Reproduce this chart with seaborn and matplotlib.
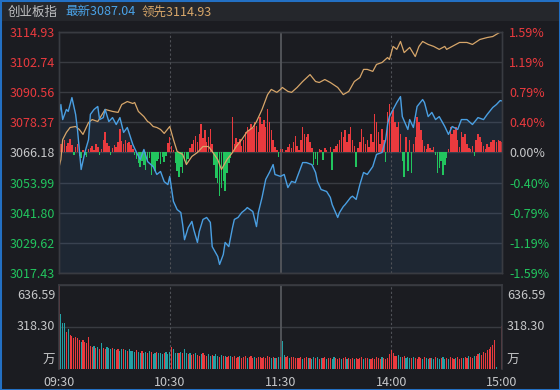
import numpy as np
import pandas as pd
import seaborn as sns
import matplotlib.pyplot as plt
from matplotlib.patches import Rectangle

# ---- data (minute index 0 = 09:30, 240 = 15:00) ----
pre_close = 3066.18
price_ticks = [3114.93, 3102.74, 3090.56, 3078.37, 3066.18, 3053.99, 3041.80, 3029.62, 3017.43]
pct_ticks = ['1.59%', '1.19%', '0.79%', '0.40%', '0.00%', '-0.40%', '-0.79%', '-1.19%', '-1.59%']
time_ticks = [0, 60, 120, 180, 240]
time_labels = ['09:30', '10:30', '11:30', '14:00', '15:00']

index_min = [0, 1, 2, 4, 5, 7, 9, 10, 12, 14, 16, 17, 19, 21, 22, 24, 25, 27, 29, 31,
             33, 35, 37, 40, 42, 44, 46, 48, 51, 53, 55, 57, 59, 60, 62, 64, 66, 67, 68, 70,
             72, 73, 75, 76, 78, 80, 82, 83, 86, 87, 89, 90, 92, 94, 95, 97, 99, 101, 102, 105,
             107, 108, 110, 112, 114, 116, 117, 120, 122, 124, 126, 128, 129, 132, 134, 137, 139, 140, 142, 145,
             147, 148, 151, 152, 154, 155, 158, 159, 161, 163, 165, 167, 170, 172, 175, 177, 178, 179, 181, 183,
             185, 186, 189, 190, 192, 194, 197, 198, 200, 202, 204, 206, 209, 211, 213, 216, 218, 221, 224, 227,
             230, 232, 235, 237, 239, 240]
index_price = [3081.55, 3085.6, 3079.5, 3083.6, 3082.8, 3088.4, 3081.6, 3075.5, 3059.3, 3066.2,
               3071.4, 3081.6, 3083.6, 3084.8, 3079.5, 3080.3, 3083.6, 3078.7, 3080.3, 3077.5,
               3080.3, 3074.3, 3076.3, 3069.4, 3066.2, 3063.3, 3067.4, 3062.5, 3060.5, 3057.3,
               3058.5, 3054.4, 3053.2, 3056.5, 3046.4, 3043.1, 3041.9, 3037.0, 3030.9, 3035.8,
               3038.3, 3035.0, 3029.8, 3034.2, 3039.1, 3039.9, 3037.9, 3028.1, 3024.1, 3020.9,
               3024.9, 3029.8, 3028.1, 3035.8, 3039.1, 3039.9, 3041.9, 3043.1, 3043.9, 3042.3,
               3036.2, 3041.9, 3048.0, 3055.3, 3058.1, 3061.3, 3057.3, 3056.5, 3057.3, 3052.0,
               3054.5, 3054.0, 3056.1, 3062.1, 3062.1, 3061.3, 3058.1, 3054.5, 3051.2, 3050.4,
               3048.0, 3045.1, 3039.9, 3041.9, 3044.3, 3045.1, 3048.0, 3048.5, 3047.2, 3053.2,
               3058.1, 3057.3, 3060.5, 3065.4, 3066.2, 3071.4, 3077.5, 3080.7, 3083.6, 3086.4,
               3088.8, 3080.7, 3075.5, 3079.5, 3076.3, 3084.8, 3087.6, 3086.4, 3080.7, 3082.4,
               3079.5, 3080.7, 3076.7, 3073.5, 3076.7, 3075.5, 3079.5, 3079.5, 3077.5, 3080.3,
               3079.5, 3081.6, 3084.4, 3085.6, 3087.2, 3087.04]

lead_min = [0, 1, 2, 4, 6, 9, 11, 13, 16, 18, 21, 25, 29, 32, 34, 37, 40, 41, 43, 46,
            48, 49, 51, 53, 55, 57, 60, 62, 64, 67, 69, 72, 75, 78, 81, 83, 86, 88, 91, 94,
            96, 99, 102, 105, 107, 110, 113, 115, 118, 120, 121, 124, 126, 129, 132, 136, 139, 141, 144, 147,
            151, 154, 157, 160, 163, 165, 167, 170, 172, 175, 178, 179, 181, 183, 185, 187, 190, 193, 195, 197,
            200, 203, 206, 209, 210, 213, 217, 221, 224, 228, 232, 235, 239, 240]
lead_price = [3060.1, 3063.3, 3071.4, 3074.3, 3076.3, 3076.7, 3075.5, 3073.5, 3078.3, 3079.5,
              3078.7, 3083.6, 3082.8, 3082.4, 3085.6, 3086.8, 3086.0, 3086.4, 3082.8, 3080.7,
              3078.7, 3078.3, 3076.7, 3076.3, 3075.5, 3073.9, 3076.7, 3071.4, 3066.6, 3065.4,
              3061.3, 3064.6, 3066.2, 3068.6, 3068.6, 3066.6, 3063.3, 3059.3, 3063.3, 3066.2,
              3068.6, 3071.4, 3074.7, 3076.3, 3078.7, 3083.6, 3089.6, 3091.7, 3090.5, 3091.7,
              3092.5, 3090.9, 3090.5, 3092.5, 3094.9, 3097.7, 3094.9, 3094.5, 3095.7, 3094.5,
              3092.5, 3089.6, 3090.9, 3094.9, 3096.5, 3099.8, 3099.8, 3099.0, 3101.8, 3102.6,
              3104.6, 3103.8, 3109.1, 3107.9, 3111.1, 3106.6, 3108.7, 3105.0, 3109.1, 3111.1,
              3109.9, 3109.1, 3107.9, 3109.1, 3107.9, 3109.1, 3110.7, 3110.7, 3109.9, 3111.9,
              3112.7, 3113.1, 3114.9, 3114.93]

# buy/sell strength bars (one per minute), + red / - green
strength = [3, 8, 10, 12, 6, 9, 13, 7, -2, 5, 8,
            -3, -5, 2, -2, -4, 3,
            4, 6, 2, 8, 5, -2,
            3, 12, 20, 9, 6, -2, 4, 7,
            5, 10, 23, 11, 8, 12, 9, 10, 7, 3,
            -2, -6, -10, -14, -8, -12, -17,
            -9, -5, -22, -14, -18, -8, -6, -11, -4, -9, -3,
            9, 15, 6, 2,
            -10, -18, -24, -14, -20, -8, -12, -6,
            4, 8, 12, 16, 10, 18, 28, 14, 22, 10, 15, 23, 8,
            -12, -25, -30, -43, -35, -28, -38, -20, -10, -5,
            35, 8, 14, 10, 13, 6, 12, 20, 25, 22, 28, 24, 30, 26, 20, 35, 28, 32, 25, 43, 30, 22, 12,
            5, 2, -4, 3,
            3, 0, 2, 5, 8, 4, 10, 16, 6, 2, 12, 25, 18, 15, 18, 10, 4, -12, -6, -12,
            3, 2, -7, 4, 2, 0, 5, -17, 3, 6,
            8, 12, 20, 15, 22, 10, 18, 25, 12, 6, -14, 4,
            10, 23, 15, 8, 12, 5, 18, 10,
            38, 30, 20, 8, 23, 12, -9,
            40, 48, 35, 42, 30, 25, 30, 18,
            -8, -24, 15, -18, 12, -20, 8, 15,
            35, 30, 22, 12, 6, 3, 8,
            4, 2, 5, -2, -20, -15, -8, -22, -12, -5, 3,
            25, 18, 22, 25, 12, 5, 20, 15, 18, 8, 4,
            3, 6, -3, 12, 18, 15, 10, 6, 3, 8, 5, 10, 12, 12, 10, 12, 11, 10]
strength_unit = 0.4046  # price points per strength unit

# volume (万), one bar per minute
volume = [636, 420, 350, 345, 282, 300, 258, 250, 236, 240,
          232, 222, 205, 218, 206, 198, 240, 178, 168, 172,
          160, 166, 150, 196, 158, 150, 166, 158, 150, 160,
          150, 142, 155, 140, 148, 152, 145, 138, 150, 135,
          140, 128, 145, 132, 118, 140, 125, 130, 120, 135,
          128, 115, 122, 130, 118, 125, 110, 120, 126, 116,
          130, 168, 155, 118, 120, 125, 132, 118, 150, 125,
          110, 118, 104, 112, 120, 108, 96, 110, 118, 105,
          100, 112, 95, 108, 102, 115, 98, 92, 105, 96,
          100, 88, 95, 102, 90, 98, 84, 92, 100, 86,
          90, 95, 82, 88, 96, 85, 92, 80, 88, 94,
          85, 90, 82, 98, 88, 84, 92, 86, 80, 90,
          88,
          214, 105, 90, 96, 85, 88, 92, 80, 86,
          82, 90, 78, 86, 92, 80, 84, 78, 90, 82,
          88, 76, 84, 80, 92, 78, 85, 82, 76, 88,
          80, 74, 86, 78, 82, 90, 76, 84, 72, 80,
          78, 86, 74, 82, 90, 76, 80, 84, 72, 78,
          82, 75, 88, 80, 76, 92, 84, 78, 86, 110,
          145, 118, 100, 96, 104, 92, 88, 95, 82, 90,
          86, 80, 92, 84, 78, 88, 82, 76, 90, 80,
          78, 86, 82, 74, 88, 80, 76, 84, 92, 78,
          82, 76, 88, 80, 74, 86, 92, 78, 84, 80,
          88, 82, 96, 90, 86, 100, 95, 110, 120, 105,
          130, 125, 145, 150, 165, 180, 220, 18, 0, 0,
          326]
volume_side = ("rgggrgrrrr" "rrgrrrrrrg" "rgrgrrgggr" "grrggrgrgg" "ggrggrggrg" "rggrgggrgg"
               "grgggrgrgg" "rgrrgrrgrr" "rggrgggrgr" "grrgrrrrgr" "rrgrrrgrrr" "rrrrrgrgrg"
               "r" "ggrrgrrrr"
               "rrgrrgrggr" "grgrrgrrgg" "rrrgrrgrrr" "grrrrgrrgr" "rrrrrgrrrr" "rrrrggrrgg"
               "grgrrrrgrg" "grggrggrgg" "rgrrrgrrrg" "rrgrrgrrgr" "rrrrrrrggg" "r")
vol_max = 636.59
vol_mid = 318.30

# ---- colours ----
BG = '#1b1c21'
HEAD = '#25272c'
GRID = '#393b41'
RED = '#ea3a3e'
GREEN = '#22c55e'
TEAL = '#24a0a4'
LIGHT = '#c6c7c9'
BLUE = '#4a9fe2'
ORANGE = '#d7a66a'

sns.set_theme(style='dark')
plt.rcParams['font.family'] = ['Noto Sans CJK SC', 'DejaVu Sans']

fig = plt.figure(figsize=(5.6, 3.9), dpi=100, facecolor=BG)
fig.patches.append(Rectangle((0, 1 - 21 / 390), 1, 21 / 390, transform=fig.transFigure,
                             facecolor=HEAD, edgecolor='none', zorder=0))
fig.patches.append(Rectangle((0, 0), 1, 1, transform=fig.transFigure, fill=False,
                             edgecolor='#2370c4', linewidth=2.2, zorder=5))

ax = fig.add_axes([59 / 560, 117 / 390, 443 / 560, 241 / 390])
axv = fig.add_axes([59 / 560, 21 / 390, 443 / 560, 84 / 390])

# ---- main price panel ----
ax.set_facecolor(BG)
minutes = np.arange(len(strength))
bar_colors = [RED if s > 0 else GREEN for s in strength]
ax.bar(minutes, np.array(strength) * strength_unit, bottom=pre_close, width=0.8,
       color=bar_colors, linewidth=0, antialiased=False, zorder=2)
ax.fill_between(index_min, index_price, price_ticks[-1], color='#3b78bd', alpha=0.12,
                linewidth=0, zorder=1)
sns.lineplot(x=lead_min, y=lead_price, ax=ax, color=ORANGE, linewidth=0.9, zorder=3)
sns.lineplot(x=index_min, y=index_price, ax=ax, color=BLUE, linewidth=1.0, zorder=4)

ax.set_xlim(0, 240)
ax.set_ylim(price_ticks[-1], price_ticks[0])
ax.set_yticks(price_ticks)
ax.set_yticklabels([f'{p:.2f}' for p in price_ticks])
ax.set_xticks([])
ax.set_xlabel('')
ax.set_ylabel('')
ax.grid(axis='y', color=GRID, linewidth=1)
ax.grid(axis='x', visible=False)
ax.tick_params(axis='y', length=0, pad=3, labelsize=9)
label_colors = [RED] * 4 + [LIGHT] + [GREEN] * 4
for lbl, c in zip(ax.get_yticklabels(), label_colors):
    lbl.set_color(c)

axr = ax.twinx()
axr.set_ylim(price_ticks[-1], price_ticks[0])
axr.set_yticks(price_ticks)
axr.set_yticklabels(pct_ticks)
axr.grid(False)
axr.tick_params(axis='y', length=0, pad=5, labelsize=9)
for lbl, c in zip(axr.get_yticklabels(), label_colors):
    lbl.set_color(c)

for a in (ax, axr):
    for sp in a.spines.values():
        sp.set_color(GRID)
        sp.set_linewidth(1)

# ---- volume panel ----
axv.set_facecolor(BG)
vol_colors = [RED if c == 'r' else TEAL for c in volume_side]
axv.bar(np.arange(len(volume)), volume, width=0.62, color=vol_colors, linewidth=0, zorder=2)
axv.set_xlim(0, 240)
axv.set_ylim(0, vol_max)
axv.set_yticks([vol_mid, vol_max])
axv.set_yticklabels([])
axv.grid(axis='y', color=GRID, linewidth=1)
axv.grid(axis='x', visible=False)
axv.tick_params(axis='y', length=0)
axv.set_xticks(time_ticks)
axv.set_xticklabels(time_labels)
axv.tick_params(axis='x', length=0, pad=5, labelsize=9, labelcolor=LIGHT)
for name, sp in axv.spines.items():
    sp.set_color(GRID)
    sp.set_visible(name != 'bottom')

for x_off, ha in ((-0.009, 'right'), (1.011, 'left')):
    for val, txt in ((560, '636.59'), (vol_mid, '318.30'), (68, '万')):
        axv.text(x_off, val, txt, transform=axv.get_yaxis_transform(), ha=ha,
                 va='center', color=LIGHT, fontsize=9)

# time separators
for a in (ax, axv):
    a.axvline(60, color='#4f5157', linewidth=0.8, linestyle=(0, (2, 2)), zorder=1)
    a.axvline(180, color='#4f5157', linewidth=0.8, linestyle=(0, (2, 2)), zorder=1)
    a.axvline(120, color='#55575c', linewidth=1.3, zorder=1)

# ---- header ----
fig.text(8 / 560, 1 - 12 / 390, '创业板指', color='#bfc0c2', fontsize=9, va='center')
fig.text(65 / 560, 1 - 12 / 390, '最新3087.04', color='#4aa3e8', fontsize=9, va='center')
fig.text(142 / 560, 1 - 12 / 390, '领先3114.93', color='#d9a86a', fontsize=9, va='center')

fig.savefig('out.png', dpi=100, facecolor=BG)
